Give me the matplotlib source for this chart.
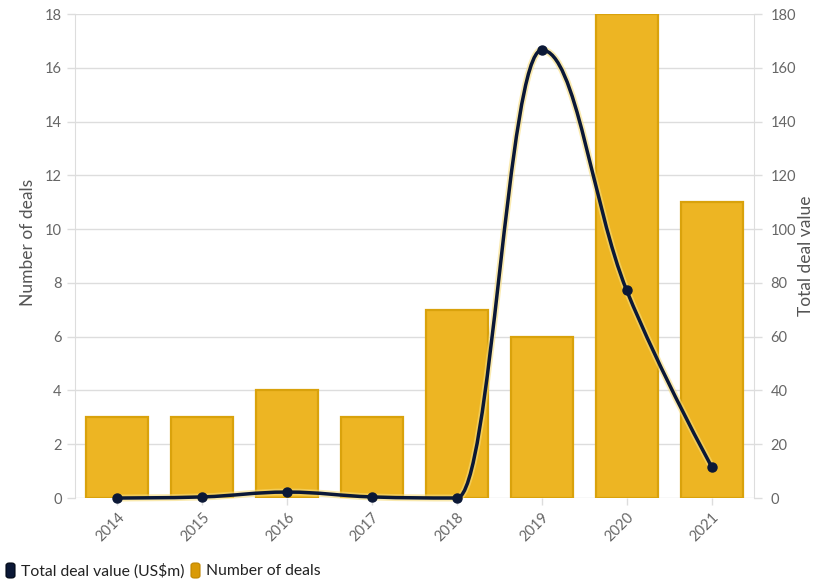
import numpy as np
import matplotlib
matplotlib.use("Agg")
import matplotlib.pyplot as plt
from matplotlib.path import Path
from matplotlib.patches import PathPatch, FancyBboxPatch
import matplotlib.patheffects as pe

plt.rcParams['font.family'] = ['Lato', 'DejaVu Sans']

# data
years = ['2014', '2015', '2016', '2017', '2018', '2019', '2020', '2021']
num_deals = [3, 3, 4, 3, 7, 6, 18, 11]
deal_value = [0.0, 0.4, 2.2, 0.4, 0.0, 166.6, 77.2, 11.7]

BAR_COLOR = '#EDB523'
BAR_EDGE = '#D9A20C'
LINE_COLOR = '#0B1836'
GRID = '#DDDDDD'
TEXT = '#666666'


def spline_path(xs, ys, smoothing=1.5):
    """Highcharts-style spline: cubic bezier through every point."""
    n = len(xs)
    conts = []
    for i in range(n):
        x, y = xs[i], ys[i]
        if 0 < i < n - 1:
            lx, ly = xs[i - 1], ys[i - 1]
            nx, ny = xs[i + 1], ys[i + 1]
            d = smoothing + 1
            lcx = (smoothing * x + lx) / d
            lcy = (smoothing * y + ly) / d
            rcx = (smoothing * x + nx) / d
            rcy = (smoothing * y + ny) / d
            if rcx != lcx:
                corr = (rcy - lcy) * (rcx - x) / (rcx - lcx) + y - rcy
                lcy += corr
                rcy += corr
            if lcy > ly and lcy > y:
                lcy = max(ly, y)
                rcy = 2 * y - lcy
            elif lcy < ly and lcy < y:
                lcy = min(ly, y)
                rcy = 2 * y - lcy
            if rcy > ny and rcy > y:
                rcy = max(ny, y)
                lcy = 2 * y - rcy
            elif rcy < ny and rcy < y:
                rcy = min(ny, y)
                lcy = 2 * y - rcy
            conts.append(((lcx, lcy), (rcx, rcy)))
        else:
            conts.append(((x, y), (x, y)))
    verts = [(xs[0], ys[0])]
    codes = [Path.MOVETO]
    for i in range(1, n):
        verts += [conts[i - 1][1], conts[i][0], (xs[i], ys[i])]
        codes += [Path.CURVE4] * 3
    return Path(verts, codes)


fig = plt.figure(figsize=(8.15, 5.83), dpi=100)
ax = fig.add_axes([75 / 815, 85 / 583, 679 / 815, 484 / 583])
ax2 = ax.twinx()

x = np.arange(len(years))
ax.bar(x, num_deals, width=0.73, color=BAR_COLOR, edgecolor=BAR_EDGE,
       linewidth=1.6, zorder=2)

ax.set_xlim(-0.5, len(years) - 0.5)
ax.set_ylim(0, 18)
ax.set_yticks(range(0, 19, 2))
ax.set_xticks(x)
ax.set_xticklabels(years, rotation=45, ha='right', rotation_mode='anchor')
ax.grid(axis='y', color=GRID, linewidth=1, zorder=0)
ax.set_axisbelow(True)

ax2.set_ylim(0, 180)
ax2.set_yticks(range(0, 181, 20))

for a in (ax, ax2):
    for s in a.spines.values():
        s.set_visible(False)
    a.tick_params(colors=TEXT, labelsize=10.5, length=6, width=1, color=GRID)

ax.spines['left'].set_visible(True)
ax.spines['left'].set_color(GRID)
ax2.spines['right'].set_visible(True)
ax2.spines['right'].set_color(GRID)
ax.tick_params(axis='x', length=5, pad=4)
ax2.tick_params(axis='y', pad=6)

# axis titles
fig.text(28 / 815, 1 - 242 / 583, 'Number of deals', rotation=90,
         color='#555555', fontsize=12.5, ha='center', va='center')
fig.text(806 / 815, 1 - 256 / 583, 'Total deal value', rotation=90,
         color='#555555', fontsize=12.5, ha='center', va='center')

# smooth line on the right axis
path = spline_path(list(x.astype(float)), deal_value)
patch = PathPatch(path, facecolor='none', edgecolor=LINE_COLOR, linewidth=2.5,
                  zorder=4, clip_on=False,
                  path_effects=[pe.Stroke(linewidth=5, foreground='#F7DC7A', alpha=0.6),
                                pe.Normal()])
ax2.add_patch(patch)
ax2.plot(x, deal_value, 'o', color=LINE_COLOR, markersize=6.5, zorder=5,
         clip_on=False)

# legend at bottom-left
for lx, col, edge, label in [(6, LINE_COLOR, '#000814', 'Total deal value (US$m)'),
                             (191, '#D99A07', '#C08600', 'Number of deals')]:
    box = FancyBboxPatch((lx / 815, 5 / 583), 9 / 815, 15 / 583,
                         boxstyle='round,pad=0,rounding_size=0.004',
                         transform=fig.transFigure, facecolor=col,
                         edgecolor=edge, linewidth=0.8)
    fig.patches.append(box)
    fig.text((lx + 15) / 815, 12 / 583, label, fontsize=11.3, color='#222222',
             va='center', ha='left')

fig.savefig('out.png', dpi=100, facecolor='white')
